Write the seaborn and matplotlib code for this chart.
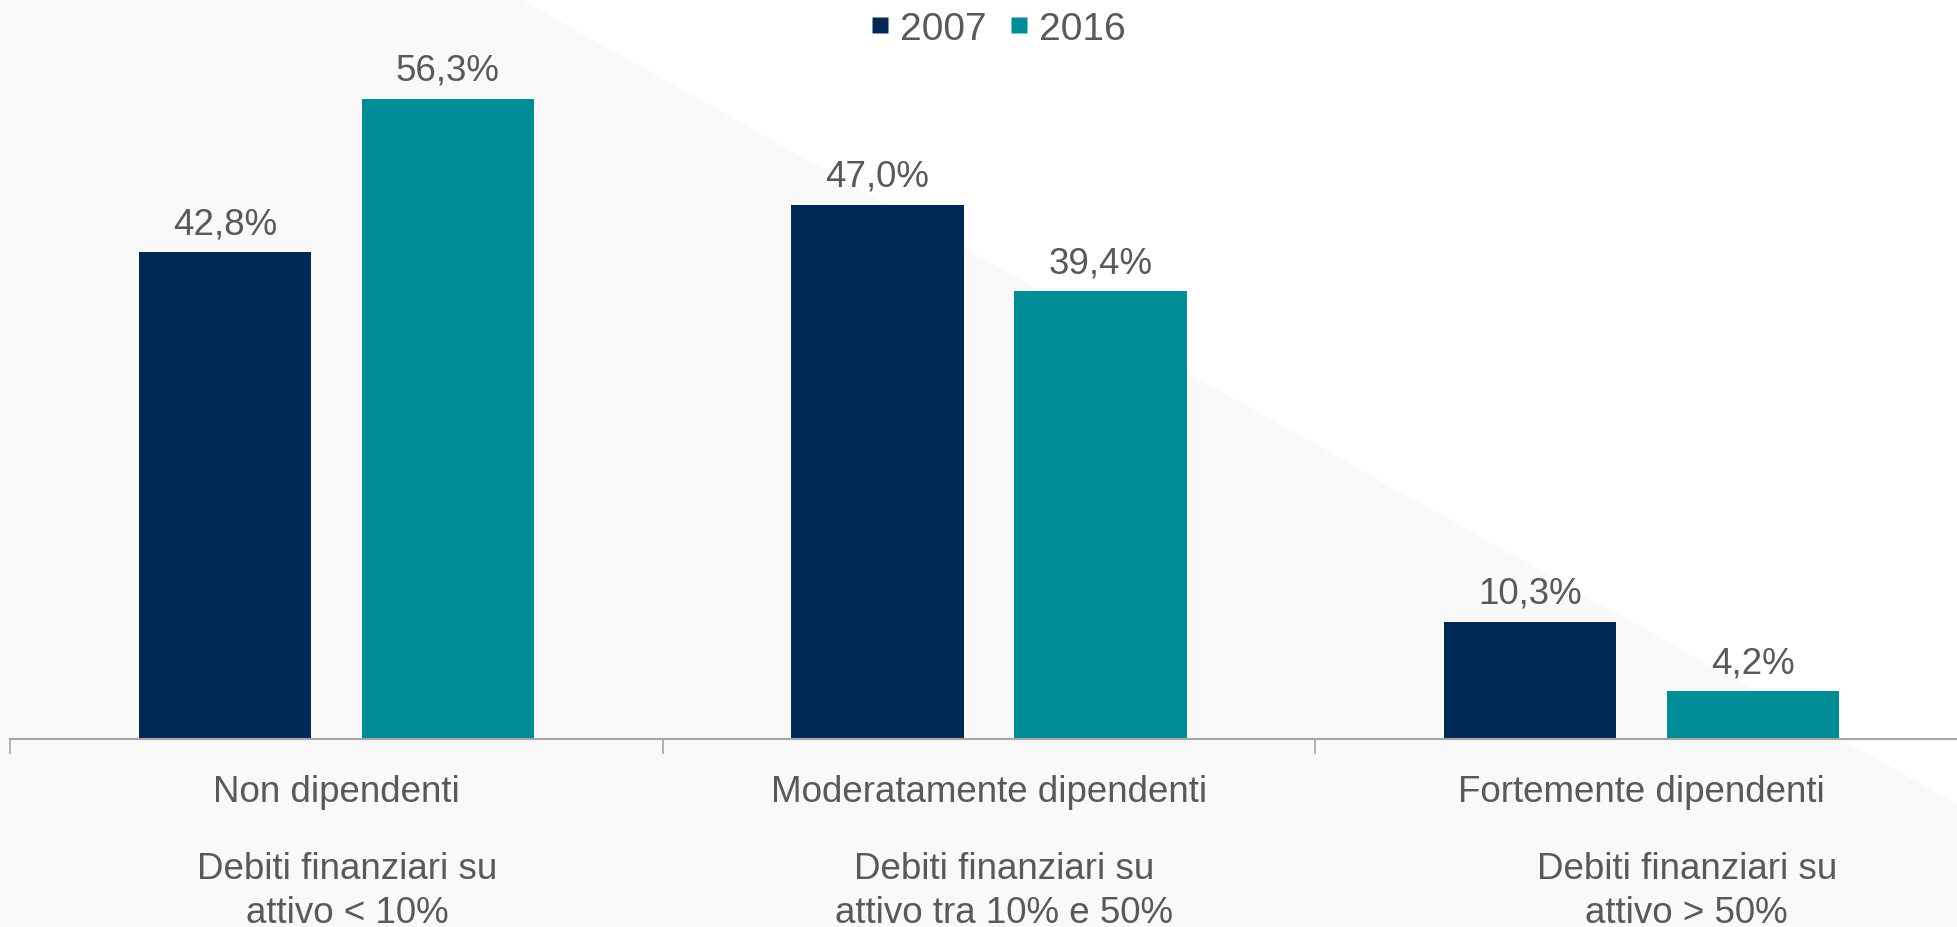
import matplotlib
matplotlib.use("Agg")
import matplotlib.pyplot as plt
import seaborn as sns
import pandas as pd
from matplotlib.patches import Polygon
from matplotlib.lines import Line2D

categories = ["Non dipendenti", "Moderatamente dipendenti", "Fortemente dipendenti"]
descriptions = ["Debiti finanziari su\nattivo < 10%",
                "Debiti finanziari su\nattivo tra 10% e 50%",
                "Debiti finanziari su\nattivo > 50%"]
years = ["2007", "2016"]
values_2007 = [42.8, 47.0, 10.3]
values_2016 = [56.3, 39.4, 4.2]
labels_2007 = ["42,8%", "47,0%", "10,3%"]
labels_2016 = ["56,3%", "39,4%", "4,2%"]

df = pd.DataFrame({
    "cat": categories * 2,
    "year": [years[0]] * 3 + [years[1]] * 3,
    "val": values_2007 + values_2016,
})

sns.set_theme(style="white")
plt.rcParams["font.family"] = ["Liberation Sans", "DejaVu Sans"]
TXT = "#595959"
FS = 26.5
colors = {"2007": "#002855", "2016": "#008b95"}

W, H = 1957, 928
fig = plt.figure(figsize=(W / 100, H / 100), dpi=100, facecolor="white")
bg = Polygon([(0, 1), (520 / W, 1), (1, 1 - 805 / H), (1, 0), (0, 0)],
             closed=True, transform=fig.transFigure, facecolor="#f9f9f9",
             edgecolor="none", zorder=-10)
fig.patches.append(bg)

ax = fig.add_axes([10 / W, 1 - 740 / H, 1958 / W, 740 / H])
ax.set_facecolor("none")
sns.barplot(data=df, x="cat", y="val", hue="year", palette=colors,
            width=0.684, gap=0.228, saturation=1, ax=ax, legend=False,
            linewidth=0)
ax.set_xlim(-0.5, 2.5)
ax.set_ylim(0, 65.1)

for cont, labs in zip(ax.containers, [labels_2007, labels_2016]):
    ax.bar_label(cont, labels=labs, padding=8, fontsize=FS, color=TXT)

for s in ["top", "right", "left"]:
    ax.spines[s].set_visible(False)
ax.spines["bottom"].set_color("#a6a6a6")
ax.spines["bottom"].set_linewidth(1.5)
ax.set_yticks([])
ax.set_xlabel("")
ax.set_ylabel("")
ax.set_xticks(range(3))
ax.set_xticklabels(categories, fontsize=FS, color=TXT)
ax.tick_params(axis="x", which="major", length=0, pad=25, bottom=True)
ax.set_xticks([-0.5, 0.5, 1.5, 2.5], minor=True)
ax.tick_params(axis="x", which="minor", length=11, width=1.2, color="#a6a6a6",
               direction="out", bottom=True)

desc_dx = [0.017, 0.023, 0.069]
for i, d in enumerate(descriptions):
    ax.annotate(d, xy=(i + desc_dx[i], 0), xycoords=("data", "axes fraction"),
                xytext=(0, -81), textcoords="offset points", ha="center",
                va="top", fontsize=FS, color=TXT, linespacing=1.32,
                annotation_clip=False)

handles = [Line2D([0], [0], marker="s", linestyle="none", markersize=11,
                  markerfacecolor=colors[y], markeredgecolor="none") for y in years]
fig.legend(handles, years, loc="upper center", bbox_to_anchor=(0.51, 1.004),
           ncol=2, frameon=False, fontsize=28, labelcolor=TXT,
           handlelength=0.5, handletextpad=0.25, columnspacing=0.6,
           borderaxespad=0)

fig.savefig("out.png", dpi=100, facecolor="white")
